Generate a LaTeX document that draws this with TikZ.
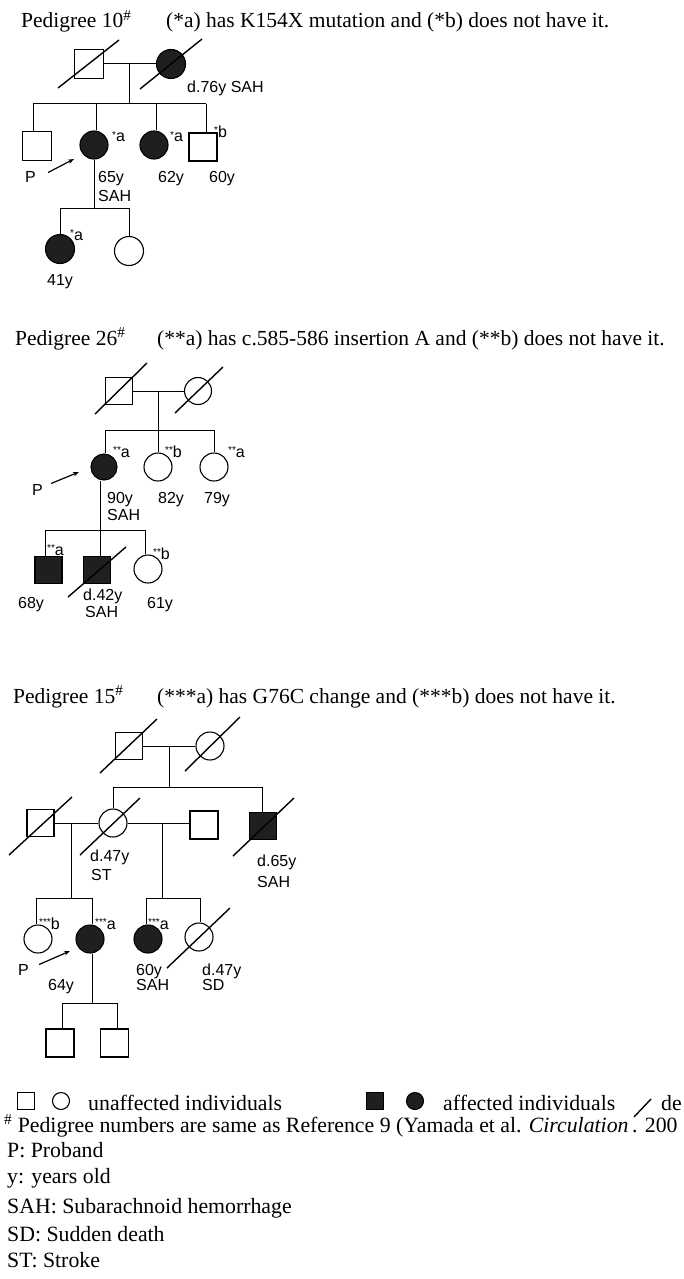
\documentclass[tikz,border=0pt]{standalone}
\usepackage{fontspec}
\setmainfont{Liberation Serif}
\setsansfont{Liberation Sans}
\usetikzlibrary{arrows.meta,calc}
\newcommand\starlab[2]{{\fontsize{10}{10}\selectfont\raisebox{3.5pt}{#1}}#2}
\tikzset{
  ln/.style={line width=1pt},
  sq/.style={draw, rectangle, line width=1.1pt, minimum size=#1, inner sep=0pt},
  ci/.style={draw, circle, line width=1.1pt, minimum size=#1, inner sep=0pt},
  aff/.style={fill=black!88},
  dead/.style={line width=1.4pt},
  lab/.style={font=\sffamily\fontsize{16}{16}\selectfont, inner sep=0pt, anchor=base west},
  ttl/.style={font=\fontsize{21.5}{21.5}\selectfont, inner sep=0pt, anchor=base west},
  leg/.style={font=\fontsize{21.8}{21.8}\selectfont, inner sep=0pt, anchor=base west},
  parr/.style={-{Stealth[length=6pt,width=4.5pt]}, line width=1.2pt}
}
\begin{document}
\begin{tikzpicture}[x=1pt,y=-1pt]
\useasboundingbox (0,0) rectangle (683,1279);
\clip (0,0) rectangle (683,1279);
\fill[white] (0,0) rectangle (683,1279);

% ================= Pedigree 10 =================
\node[ttl] (t10) at (21,28) {Pedigree 10\textsuperscript{\#}};
\node[ttl] (t10b) at (166,28) {(*a) has K154X mutation and (*b) does not have it.};
\node[sq=29pt] (f10) at (89,64) {};
\node[ci=29pt,aff] (m10) at (171,64) {};
\draw[dead] (f10) ++(-31,24) -- ++(61,-48);
\draw[dead] (m10) ++(-31,25) -- ++(62,-50);
\draw[ln] (f10.east) -- (m10.west);
\coordinate (d10) at (129,64);
\coordinate (s10) at (129,104);
\draw[ln] (d10) -- (s10);
\node[sq=29pt] (a1) at (37,146) {};
\node[ci=28pt,aff] (a2) at (94,145) {};
\node[ci=28pt,aff] (a3) at (154,145) {};
\node[sq=28pt] (a4) at (203,147) {};
\coordinate (j1) at (33,104);
\coordinate (j2) at (96,104);
\coordinate (j3) at (156,104);
\coordinate (j4) at (206,104);
\draw[ln] (j1) -- (j4);
\draw[ln] (j1) -- (j1 |- a1.north);
\draw[ln] (j2) -- (j2 |- a2.north);
\draw[ln] (j3) -- (j3 |- a3.north);
\draw[ln] (j4) -- (j4 |- a4.north);
\node[lab] (a2s) at (112,142) {\starlab{*}{a}};
\node[lab] (a3s) at (170,142) {\starlab{*}{a}};
\node[lab] (a4s) at (214,137) {\starlab{*}{b}};
\node[lab] (a2l1) at (98,182) {65y};
\node[lab] (a2l2) at (98,201) {SAH};
\node[lab] (a3l) at (158,182) {62y};
\node[lab] (a4l) at (209,182) {60y};
\node[lab] (p10) at (25,182) {P};
\draw[parr] ($(p10.east)+(12,-4)$) -- ($(a2)+(-20,14)$);
\coordinate (a2d) at (94,208);
\draw[ln] (a2.south) -- (a2d);
\node[ci=29pt,aff] (b1) at (60,249) {};
\node[ci=29pt] (b2) at (129,251) {};
\coordinate (bj1) at (60,208);
\coordinate (bj2) at (129,208);
\draw[ln] (bj1) -- (bj2);
\draw[ln] (bj1) -- (b1.north);
\draw[ln] (bj2) -- (b2.north);
\node[lab] (b1s) at (70,240) {\starlab{*}{a}};
\node[lab] (b1l) at (47,285) {41y};
\node[lab] (m10l) at (187,93) {d.76y SAH};

% ================= Pedigree 26 =================
\node[ttl] (t26) at (15,345) {Pedigree 26\textsuperscript{\#}};
\node[ttl] (t26b) at (157,345) {(**a) has c.585-586 insertion A and (**b) does not have it.};
\node[sq=27pt] (f26) at (119,391) {};
\node[ci=27pt] (m26) at (198,391) {};
\draw[dead] (f26) ++(-24,23) -- ++(52,-51);
\draw[dead] (m26) ++(-23,22) -- ++(48,-46);
\draw[ln] (f26.east) -- (m26.west);
\coordinate (d26) at (158,391);
\coordinate (s26) at (158,430);
\draw[ln] (d26) -- (s26);
\node[ci=26pt,aff] (c1) at (104,467) {};
\node[ci=28pt] (c2) at (158,467) {};
\node[ci=28pt] (c3) at (214,467) {};
\coordinate (k1) at (105,430);
\coordinate (k3) at (214,430);
\draw[ln] (k1) -- (k3);
\draw[ln] (k1) -- (k1 |- c1.north);
\draw[ln] (s26) -- (c2.north);
\draw[ln] (k3) -- (c3.north);
\node[lab] (c1s) at (113,457) {\starlab{**}{a}};
\node[lab] (c2s) at (165,457) {\starlab{**}{b}};
\node[lab] (c3s) at (228,457) {\starlab{**}{a}};
\node[lab] (p26) at (32,495) {P};
\draw[parr] ($(p26.east)+(8,-6)$) -- ($(c1)+(-25,5)$);
\node[lab] (c1l1) at (107,503) {90y};
\node[lab] (c1l2) at (107,520) {SAH};
\node[lab] (c2l) at (158,503) {82y};
\node[lab] (c3l) at (204,503) {79y};
\coordinate (c1d) at (100,530);
\draw[ln] (c1d |- c1.south) -- (c1d);
\node[sq=27pt,aff] (e1) at (48.5,570) {};
\node[sq=27pt,aff] (e2) at (97,570) {};
\node[ci=28pt] (e3) at (148,569) {};
\draw[dead] (e2) ++(-29,27) -- ++(58,-50);
\coordinate (ej1) at (45,530);
\coordinate (ej3) at (145,530);
\draw[ln] (ej1) -- (ej3);
\draw[ln] (ej1) -- (ej1 |- e1.north);
\draw[ln] (c1d) -- (c1d |- e2.north);
\draw[ln] (ej3) -- (ej3 |- e3.north);
\node[lab] (e1s) at (47,555) {\starlab{**}{a}};
\node[lab] (e3s) at (153,559) {\starlab{**}{b}};
\node[lab] (e1l) at (18,608) {68y};
\node[lab] (e2l1) at (83,600) {d.42y};
\node[lab] (e2l2) at (85,617) {SAH};
\node[lab] (e3l) at (147,608) {61y};

% ================= Pedigree 15 =================
\node[ttl] (t15) at (13,703) {Pedigree 15\textsuperscript{\#}};
\node[ttl] (t15b) at (157,703) {(***a) has G76C change and (***b) does not have it.};
\node[sq=27pt] (f15) at (129,746) {};
\node[ci=28pt] (m15) at (210,746) {};
\draw[dead] (f15) ++(-29,27) -- ++(57,-54);
\draw[dead] (m15) ++(-25,25) -- ++(55,-54);
\draw[ln] (f15.east) -- (m15.west);
\coordinate (d15) at (169,746);
\coordinate (s15) at (169,787);
\draw[ln] (d15) -- (s15);
\node[sq=27pt] (h1) at (40.5,823) {};
\node[ci=28pt] (w) at (113,823) {};
\node[sq=28pt] (h2) at (204,825) {};
\node[sq=27pt,aff] (br) at (263,826) {};
\draw[dead] (h1) ++(-31.5,32) -- ++(63,-58);
\draw[dead] (w) ++(-33,32) -- ++(60,-57);
\draw[dead] (br) ++(-30,30) -- ++(61,-58);
\coordinate (g1) at (113,787);
\coordinate (g2) at (262,787);
\draw[ln] (g1) -- (g2);
\draw[ln] (g1) -- (w.north);
\draw[ln] (g2) -- (g2 |- br.north);
\draw[ln] (h1.east) -- (w.west);
\draw[ln] (w.east) -- (w.east -| h2.west);
\coordinate (q1) at (71,823);
\coordinate (q1b) at (71,898);
\coordinate (q2) at (162,823);
\coordinate (q2b) at (162,898);
\draw[ln] (q1) -- (q1b);
\draw[ln] (q2) -- (q2b);
\node[lab] (wl1) at (90,861) {d.47y};
\node[lab] (wl2) at (91,880) {ST};
\node[lab] (brl1) at (257,866) {d.65y};
\node[lab] (brl2) at (257,887) {SAH};
\node[ci=28pt] (n1) at (38,939) {};
\node[ci=28pt,aff] (n2) at (90,939) {};
\node[ci=28pt,aff] (n3) at (148,939) {};
\node[ci=28pt] (n4) at (199,937) {};
\draw[dead] (n4) ++(-32,31) -- ++(63,-60);
\coordinate (r1) at (36,898);
\coordinate (r2) at (92,898);
\coordinate (r3) at (146,898);
\coordinate (r4) at (200,898);
\draw[ln] (r1) -- (r2);
\draw[ln] (r3) -- (r4);
\draw[ln] (r1) -- (r1 |- n1.north);
\draw[ln] (r2) -- (r2 |- n2.north);
\draw[ln] (r3) -- (r3 |- n3.north);
\draw[ln] (r4) -- (r4 |- n4.north);
\node[lab] (n1s) at (39,929) {\starlab{***}{b}};
\node[lab] (n2s) at (95,929) {\starlab{***}{a}};
\node[lab] (n3s) at (148,929) {\starlab{***}{a}};
\node[lab] (p15) at (18,975) {P};
\draw[parr] ($(p15.east)+(10,-5)$) -- ($(n2)+(-20,12)$);
\node[lab] (n2l) at (48,990) {64y};
\node[lab] (n3l1) at (136,975) {60y};
\node[lab] (n3l2) at (136,990) {SAH};
\node[lab] (n4l1) at (202,975) {d.47y};
\node[lab] (n4l2) at (202,990) {SD};
\coordinate (n2d) at (92,1003);
\draw[ln] (n2d |- n2.south) -- (n2d);
\node[sq=28pt] (o1) at (60,1043) {};
\node[sq=28pt] (o2) at (114.5,1043) {};
\coordinate (u1) at (62,1003);
\coordinate (u2) at (117,1003);
\draw[ln] (u1) -- (u2);
\draw[ln] (u1) -- (u1 |- o1.north);
\draw[ln] (u2) -- (u2 |- o2.north);

% ================= Legend =================
\node[sq=17pt] (lsq) at (26,1101) {};
\node[ci=17pt] (lci) at (61,1101) {};
\node[leg] (lt1) at (88,1110) {unaffected individuals};
\node[sq=17pt,aff] (lsqa) at (375,1101) {};
\node[ci=17pt,aff] (lcia) at (415,1101) {};
\node[leg] (lt2) at (443,1110) {affected individuals};
\coordinate (ls1) at (634,1117);
\coordinate (ls2) at (651,1099);
\draw[dead] (ls1) -- (ls2);
\node[leg] (lt3) at (661,1110) {de};
\node[leg] (lt4) at (4,1132) {\textsuperscript{\#} Pedigree numbers are same as Reference 9 (Yamada et al. \textit{Circulation}\,. 200};
\node[leg] (lt5) at (7,1157) {P: Proband};
\node[leg] (lt6) at (7,1183) {y: years old};
\node[leg] (lt7) at (7,1213) {SAH: Subarachnoid hemorrhage};
\node[leg] (lt8) at (7,1241) {SD: Sudden death};
\node[leg] (lt9) at (7,1267) {ST: Stroke};
\end{tikzpicture}
\end{document}
